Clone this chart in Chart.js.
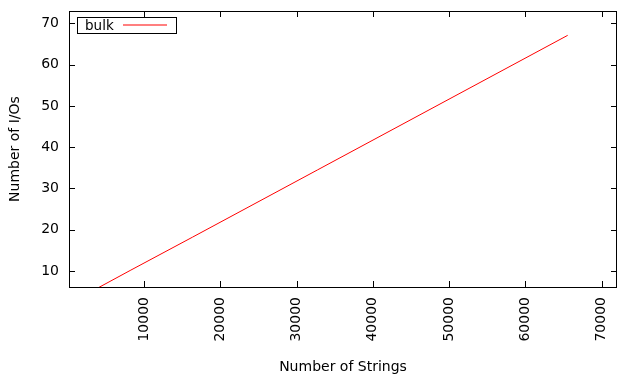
<!DOCTYPE html>
<html>
<head>
<meta charset="utf-8">
<script src="https://cdn.jsdelivr.net/npm/chart.js@4/dist/chart.umd.min.js"></script>
<style>
  html, body { margin: 0; padding: 0; background: #fff; }
  #wrap { width: 618px; height: 376px; }
</style>
</head>
<body>
<div id="wrap"><canvas id="myChart"></canvas></div>
<script>
// data
const numStrings = [1024, 2048, 4096, 8192, 16384, 32768, 65536];
const bulkIOs = [3.0, 4.0, 6.0, 10.1, 18.2, 34.5, 67.1];
const xTickValues = [10000, 20000, 30000, 40000, 50000, 60000, 70000];
const yTickValues = [10, 20, 30, 40, 50, 60, 70];
const seriesName = "bulk";

const font = "DejaVu Sans";
const lineColor = "#ff0000";

// frame + inward ticks on all four sides, like gnuplot
const framePlugin = {
  id: "frame",
  afterDatasetsDraw(chart) {
    const ctx = chart.ctx;
    const a = chart.chartArea;
    const xs = chart.scales.x;
    const ys = chart.scales.y;
    ctx.save();
    ctx.strokeStyle = "#000";
    ctx.lineWidth = 1;
    ctx.beginPath();
    xTickValues.forEach((v) => {
      const px = Math.round(xs.getPixelForValue(v)) + 0.5;
      ctx.moveTo(px, a.bottom);
      ctx.lineTo(px, a.bottom - 6);
      ctx.moveTo(px, a.top);
      ctx.lineTo(px, a.top + 6);
    });
    yTickValues.forEach((v) => {
      const py = Math.round(ys.getPixelForValue(v)) + 0.5;
      ctx.moveTo(a.left, py);
      ctx.lineTo(a.left + 6, py);
      ctx.moveTo(a.right, py);
      ctx.lineTo(a.right - 6, py);
    });
    ctx.stroke();
    ctx.strokeRect(
      Math.round(a.left) + 0.5,
      Math.round(a.top) + 0.5,
      Math.round(a.right - a.left) - 1,
      Math.round(a.bottom - a.top)
    );
    ctx.restore();
  },
  afterDraw(chart) {
    // boxed legend, top left
    const ctx = chart.ctx;
    const ds = chart.data.datasets[0];
    ctx.save();
    ctx.strokeStyle = "#000";
    ctx.lineWidth = 1;
    ctx.strokeRect(77.5, 17.5, 99, 16);
    ctx.fillStyle = "#000";
    ctx.font = "13.5px '" + font + "'";
    ctx.textBaseline = "middle";
    ctx.fillText(ds.label, 85, 26);
    ctx.strokeStyle = lineColor;
    ctx.lineWidth = 1.2;
    ctx.beginPath();
    ctx.moveTo(123, 25);
    ctx.lineTo(167, 25);
    ctx.stroke();
    ctx.restore();
  },
};

const config = {
  type: "line",
  data: {
    datasets: [
      {
        label: seriesName,
        data: numStrings.map((n, i) => ({ x: n, y: bulkIOs[i] })),
        borderColor: lineColor,
        borderWidth: 1,
        pointRadius: 0,
        fill: false,
        tension: 0,
      },
    ],
  },
  options: {
    responsive: true,
    maintainAspectRatio: false,
    animation: false,
    layout: {
      padding: { top: 11, right: 1, left: 0, bottom: 0 },
    },
    plugins: {
      legend: { display: false },
      tooltip: { enabled: false },
    },
    scales: {
      x: {
        type: "linear",
        min: 180,
        max: 72000,
        afterBuildTicks: (scale) => {
          scale.ticks = xTickValues.map((v) => ({ value: v }));
        },
        afterFit: (scale) => {
          scale.height = 89;
          scale.paddingLeft = 0;
          scale.paddingRight = 0;
        },
        grid: { display: false, drawTicks: false },
        border: { display: false },
        ticks: {
          minRotation: 90,
          maxRotation: 90,
          padding: 10,
          color: "#000",
          font: { family: font, size: 14 },
          callback: (v) => String(v),
        },
        title: {
          display: true,
          text: "Number of Strings",
          color: "#000",
          font: { family: font, size: 14 },
          padding: { top: 0, bottom: 0 },
        },
      },
      y: {
        min: 6.1,
        max: 73,
        afterBuildTicks: (scale) => {
          scale.ticks = yTickValues.map((v) => ({ value: v }));
        },
        afterFit: (scale) => {
          scale.width = 69;
          scale.paddingTop = 0;
          scale.paddingBottom = 0;
        },
        grid: { display: false, drawTicks: false },
        border: { display: false },
        ticks: {
          padding: 10,
          color: "#000",
          font: { family: font, size: 14 },
        },
        title: {
          display: true,
          text: "Number of I/Os",
          color: "#000",
          font: { family: font, size: 14 },
          padding: { top: 7, bottom: 0 },
        },
      },
    },
  },
  plugins: [framePlugin],
};

const myChart = new Chart(document.getElementById("myChart"), config);
</script>
</body>
</html>
